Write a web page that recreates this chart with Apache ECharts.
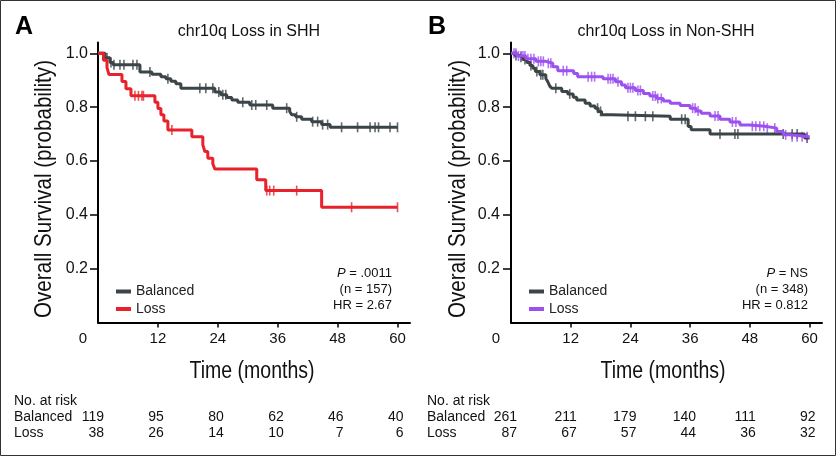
<!DOCTYPE html>
<html><head><meta charset="utf-8">
<script src="https://cdn.jsdelivr.net/npm/echarts@6/dist/echarts.min.js"></script>
<style>html,body{margin:0;padding:0;background:#fff}#c{width:837px;height:457px}</style>
</head><body><div id="c"></div>
<script>
// ---- data ----
const xTicks = [0, 12, 24, 36, 48, 60];
const yTicks = [0.2, 0.4, 0.6, 0.8, 1.0];

// Panel A: chr10q Loss in SHH  (time in months, survival probability after step)
const shhBalanced = [[0,1.0],[1.4,0.983],[2.4,0.966],[3.0,0.957],[8.4,0.93],[10.8,0.922],[12.6,0.913],[13.6,0.905],[14.6,0.896],[15.6,0.887],[16.6,0.87],[23.4,0.856],[24.6,0.846],[25.8,0.836],[26.8,0.826],[28.0,0.818],[30.4,0.808],[35.0,0.796],[38.4,0.784],[38.8,0.772],[39.6,0.764],[40.8,0.755],[42.8,0.746],[44.8,0.735],[46.5,0.725],[60,0.725]];
const shhBalancedCensor = [1.8,2.6,3.2,4.4,5.2,7.0,7.8,10.4,14.0,20.4,21.6,23.0,24.2,25.0,25.6,29.0,30.8,31.6,33.8,37.8,39.8,43.0,44.0,45.0,46.0,48.8,52.0,54.5,55.5,56.2,58.5,60];
const shhLoss = [[0,1.0],[1.1,0.974],[1.8,0.947],[2.2,0.921],[4.8,0.895],[5.6,0.868],[6.6,0.842],[11.4,0.818],[12.0,0.795],[12.6,0.772],[13.2,0.748],[14.0,0.715],[18.8,0.69],[21.0,0.66],[21.4,0.635],[22.0,0.61],[23.0,0.59],[23.4,0.57],[31.8,0.53],[33.6,0.49],[44.8,0.428],[60,0.428]];
const shhLossCensor = [7.4,8.1,8.8,9.1,14.8,33.8,34.4,35.2,39.8,50.8,60];

// Panel B: chr10q Loss in Non-SHH
const nonBalanced = [[0,1.0],[0.8,0.992],[1.6,0.985],[2.4,0.977],[3.2,0.966],[3.8,0.955],[4.4,0.944],[4.9,0.932],[5.8,0.92],[7.0,0.906],[7.4,0.894],[7.8,0.878],[8.2,0.87],[10.2,0.858],[11.4,0.849],[12.5,0.837],[13.2,0.826],[14.9,0.814],[15.9,0.804],[16.9,0.796],[17.5,0.784],[18.2,0.772],[20.2,0.766],[32.0,0.755],[35.6,0.728],[36.2,0.716],[40.0,0.70],[59.0,0.685],[60,0.685]];
const nonBalancedCensor = [1.0,2.0,2.8,4.0,5.2,6.0,6.4,9.0,11.8,17.4,18.0,23.5,25.0,27.0,28.5,34.3,35.0,42.0,45.0,45.6,54.7,56.5,57.5,59.5];
const nonLoss = [[0,1.0],[1.2,0.99],[3.0,0.98],[5.0,0.97],[7.0,0.963],[8.4,0.95],[9.4,0.935],[12.6,0.925],[13.4,0.913],[18.5,0.905],[21.0,0.894],[22.2,0.882],[23.0,0.872],[25.0,0.862],[26.6,0.851],[27.9,0.841],[29.3,0.832],[30.6,0.823],[32.0,0.814],[34.0,0.806],[36.0,0.796],[37.2,0.786],[38.2,0.777],[40.0,0.767],[42.0,0.755],[44.0,0.745],[46.0,0.734],[48.0,0.729],[51.0,0.722],[53.4,0.709],[54.7,0.697],[56.0,0.69],[60,0.69]];
const nonLossCensor = [0.6,1.0,1.5,2.0,2.4,2.8,3.4,4.0,4.6,5.5,6.0,6.5,7.5,8.0,10.5,11.2,15.5,16.2,16.8,19.5,20.0,20.5,21.5,23.5,24.0,24.5,25.5,26.0,28.5,29.0,29.5,30.2,36.5,37.0,37.6,41.0,41.6,44.5,45.2,48.5,49.2,50.0,50.8,51.5,53.0,55.2,56.5,57.5,58.5,59.5];

const riskShhBalanced = [119, 95, 80, 62, 46, 40];
const riskShhLoss = [38, 26, 14, 10, 7, 6];
const riskNonBalanced = [261, 211, 179, 140, 111, 92];
const riskNonLoss = [87, 67, 57, 44, 36, 32];

const titles = ['chr10q Loss in SHH', 'chr10q Loss in Non-SHH'];
const panelLetters = ['A', 'B'];
const stats = [['.0011', '(n = 157)', 'HR = 2.67'], ['NS', '(n = 348)', 'HR = 0.812']];

// ---- styles ----
const C_BAL = '#3b4446', C_RED = '#e8212b', C_PUR = '#9b50ef';
const SANS = "'Liberation Sans', Arial, Helvetica, sans-serif";

function survAt(curve, t) {
  let s = curve[0][1];
  for (const p of curve) { if (p[0] <= t) s = p[1]; else break; }
  return s;
}

const chart = echarts.init(document.getElementById('c'), null, {renderer: 'canvas'});

const grids = [
  {left: 98, top: 42.5, width: 312, height: 280},
  {left: 511, top: 42.5, width: 311, height: 280}
];

function xAx(i) {
  return {
    type: 'value', gridIndex: i, min: 0, max: 62.5,
    axisLine: {lineStyle: {color: '#000', width: 2}},
    axisTick: {customValues: xTicks.slice(1), length: 5, lineStyle: {color: '#000', width: 1.5}},
    axisLabel: {
      customValues: xTicks, margin: 9, fontSize: 15, color: '#111', fontFamily: SANS,
      formatter: v => v === 0 ? '{z|0}' : String(v),
      rich: {z: {padding: [0, 30, 0, 0], fontSize: 15, color: '#111', fontFamily: SANS}}
    },
    splitLine: {show: false}
  };
}
function yAx(i, margin) {
  return {
    type: 'value', gridIndex: i, min: 0, max: 1.04,
    axisLine: {lineStyle: {color: '#000', width: 2}},
    axisTick: {customValues: yTicks, length: 8, lineStyle: {color: '#000', width: 1.5}},
    axisLabel: {customValues: yTicks, margin: margin, fontSize: 16, color: '#111', fontFamily: SANS,
      formatter: v => v.toFixed(1)},
    splitLine: {show: false}
  };
}

function lineSeries(name, data, color, idx) {
  return {name: name, type: 'line', step: 'end', data: data, xAxisIndex: idx, yAxisIndex: idx,
    symbol: 'none', lineStyle: {color: color, width: 3}, itemStyle: {color: color}, silent: true, animation: false};
}
function censorSeries(name, curve, times, color, idx) {
  return {name: name, type: 'scatter', xAxisIndex: idx, yAxisIndex: idx,
    data: times.map(t => [t, survAt(curve, t)]),
    symbol: 'rect', symbolSize: [1.6, 10], itemStyle: {color: color}, silent: true, animation: false};
}

function legend(i, left) {
  return {
    data: [{name: 'Balanced ' + panelLetters[i]}, {name: 'Loss ' + panelLetters[i]}],
    orient: 'vertical', left: left, top: 279.5, itemWidth: 15, itemHeight: 4, itemGap: 3.5,
    icon: 'rect', selectedMode: false,
    formatter: n => n.replace(/ [AB]$/, ''),
    textStyle: {fontSize: 14, color: '#222', fontFamily: SANS}
  };
}

chart.setOption({
  animation: false,
  grid: grids,
  xAxis: [xAx(0), xAx(1)],
  yAxis: [yAx(0, 10), yAx(1, 11)],
  legend: [legend(0, 111), legend(1, 524)],
  series: [
    lineSeries('Balanced A', shhBalanced, C_BAL, 0),
    censorSeries('Balanced A', shhBalanced, shhBalancedCensor, C_BAL, 0),
    lineSeries('Loss A', shhLoss, C_RED, 0),
    censorSeries('Loss A', shhLoss, shhLossCensor, C_RED, 0),
    lineSeries('Balanced B', nonBalanced, C_BAL, 1),
    censorSeries('Balanced B', nonBalanced, nonBalancedCensor, C_BAL, 1),
    lineSeries('Loss B', nonLoss, C_PUR, 1),
    censorSeries('Loss B', nonLoss, nonLossCensor, C_PUR, 1)
  ]
});

// ---- text decorations ----
const g = [];
g.push({type: 'rect', silent: true, shape: {x: 0.5, y: 0.5, width: 835, height: 455},
  style: {fill: 'none', stroke: '#333', lineWidth: 1}});
function txt(x, y, text, font, opts) {
  g.push(Object.assign({type: 'text', x: x, y: y, silent: true,
    style: Object.assign({text: text, font: font, fill: '#111', align: 'left', verticalAlign: 'middle'}, opts && opts.style || {})},
    opts && opts.el || {}));
}
const panelX = [{letter: 24, title: 249, ytitle: 44, xtitle: 252, stat: 392, tbl: 14},
                {letter: 437, title: 666, ytitle: 458, xtitle: 663, stat: 808, tbl: 427}];
const risks = [[riskShhBalanced, riskShhLoss], [riskNonBalanced, riskNonLoss]];
for (let i = 0; i < 2; i++) {
  const P = panelX[i];
  txt(P.letter, 27, panelLetters[i], 'bold 25px ' + SANS, {style: {align: 'center', fill: '#000'}});
  txt(P.title, 32, titles[i], '16px ' + SANS, {style: {align: 'center'}});
  txt(P.ytitle, 189, 'Overall Survival (probability)', '24px ' + SANS,
    {style: {align: 'center'}, el: {rotation: Math.PI / 2, scaleX: 0.86}});
  txt(P.xtitle, 372, 'Time (months)', '23.5px ' + SANS, {style: {align: 'center'}, el: {scaleX: 0.83}});
  // stats
  g.push({type: 'text', x: P.stat, y: 273, silent: true, style: {
    text: '{i|P} = ' + stats[i][0], align: 'right', verticalAlign: 'middle',
    font: '13px ' + SANS, fill: '#111',
    rich: {i: {fontStyle: 'italic', fontSize: 13, fontFamily: SANS, fill: '#111'}}}});
  txt(P.stat, 289, stats[i][1], '13px ' + SANS, {style: {align: 'right'}});
  txt(P.stat, 305, stats[i][2], '13px ' + SANS, {style: {align: 'right'}});
  // at-risk table
  txt(P.tbl, 401, 'No. at risk', '14px ' + SANS);
  txt(P.tbl, 417, 'Balanced', '14px ' + SANS);
  txt(P.tbl, 433, 'Loss', '14px ' + SANS);
  xTicks.forEach((t, k) => {
    const px = chart.convertToPixel({xAxisIndex: i}, t) + 6;
    txt(px, 417, String(risks[i][0][k]), '14px ' + SANS, {style: {align: 'right'}});
    txt(px, 433, String(risks[i][1][k]), '14px ' + SANS, {style: {align: 'right'}});
  });
}
chart.setOption({graphic: g});
</script></body></html>
